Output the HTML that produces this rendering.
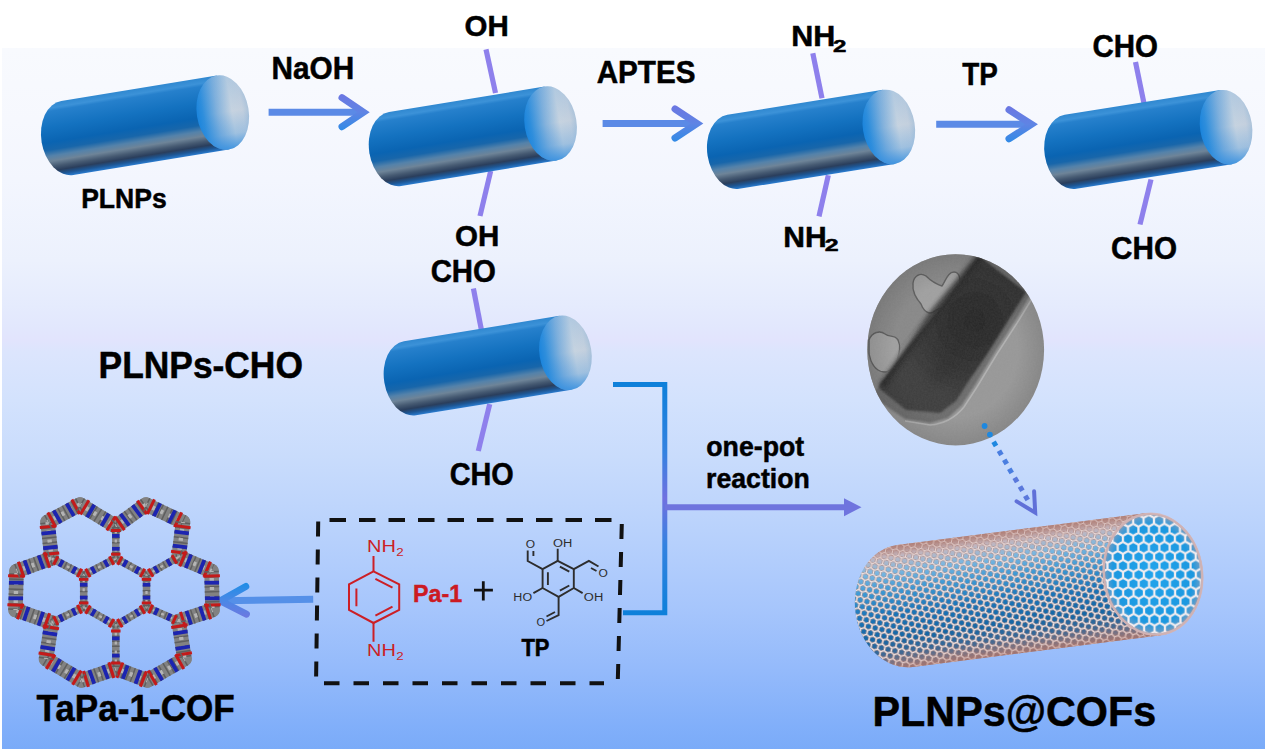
<!DOCTYPE html>
<html><head><meta charset="utf-8"><style>
html,body{margin:0;padding:0;background:#fff;overflow:hidden;}
svg{display:block;}
text{font-family:"Liberation Sans",sans-serif;}
</style></head><body>
<svg width="1268" height="752" viewBox="0 0 1268 752">
<defs>
<linearGradient id="bg" gradientUnits="userSpaceOnUse" x1="0" y1="48" x2="0" y2="749">
 <stop offset="0.0000" stop-color="#f8fafe"/>
 <stop offset="0.1027" stop-color="#f6f8fe"/>
 <stop offset="0.1883" stop-color="#f3f6fe"/>
 <stop offset="0.3024" stop-color="#ecf1fd"/>
 <stop offset="0.3680" stop-color="#e5ebfd"/>
 <stop offset="0.3994" stop-color="#e2e7fd"/>
 <stop offset="0.4165" stop-color="#e2e4fd"/>
 <stop offset="0.4337" stop-color="#dce5fd"/>
 <stop offset="0.5021" stop-color="#d3e2fd"/>
 <stop offset="0.5820" stop-color="#c9dcfc"/>
 <stop offset="0.6876" stop-color="#b9d2fc"/>
 <stop offset="0.7960" stop-color="#a7c6fc"/>
 <stop offset="0.8873" stop-color="#94bafb"/>
 <stop offset="0.9672" stop-color="#81affa"/>
 <stop offset="1.0000" stop-color="#7aabf8"/>
</linearGradient>
<linearGradient id="cylbody" x1="0" y1="0" x2="0" y2="1">
 <stop offset="0" stop-color="#3088d0"/>
 <stop offset="0.07" stop-color="#3c92d8"/>
 <stop offset="0.11" stop-color="#2680cc"/>
 <stop offset="0.32" stop-color="#1472c0"/>
 <stop offset="0.52" stop-color="#0a64b2"/>
 <stop offset="0.62" stop-color="#1866aa"/>
 <stop offset="0.70" stop-color="#5482aa"/>
 <stop offset="0.77" stop-color="#6e8498"/>
 <stop offset="0.84" stop-color="#465a72"/>
 <stop offset="0.90" stop-color="#2a3e5c"/>
 <stop offset="0.95" stop-color="#1d5694"/>
 <stop offset="1" stop-color="#2a7cd0"/>
</linearGradient>
<linearGradient id="cylcap" x1="0" y1="0" x2="1" y2="0">
 <stop offset="0" stop-color="#1a84dc"/>
 <stop offset="0.12" stop-color="#2e8edc"/>
 <stop offset="0.4" stop-color="#84b2dc"/>
 <stop offset="0.68" stop-color="#c6d3e0"/>
 <stop offset="0.88" stop-color="#c4d0de"/>
 <stop offset="1" stop-color="#aec4da"/>
</linearGradient>
<linearGradient id="cylcap2" x1="0" y1="0" x2="0" y2="1">
 <stop offset="0" stop-color="#2a8ae0" stop-opacity="0.15"/>
 <stop offset="0.5" stop-color="#2a8ae0" stop-opacity="0"/>
 <stop offset="0.8" stop-color="#2a8ae0" stop-opacity="0.25"/>
 <stop offset="1" stop-color="#2a8ae0" stop-opacity="0.8"/>
</linearGradient>

<linearGradient id="ntbody" x1="0" y1="0" x2="0" y2="1">
 <stop offset="0" stop-color="#b89088"/>
 <stop offset="0.08" stop-color="#c8c4d0"/>
 <stop offset="0.2" stop-color="#7cb8e2"/>
 <stop offset="0.36" stop-color="#3c98d4"/>
 <stop offset="0.55" stop-color="#1a74b8"/>
 <stop offset="0.75" stop-color="#1666a4"/>
 <stop offset="0.88" stop-color="#3e6894"/>
 <stop offset="1" stop-color="#a08080"/>
</linearGradient>
<linearGradient id="ntedge" x1="0" y1="0" x2="0" y2="1">
 <stop offset="0" stop-color="#a86a60" stop-opacity="0.45"/>
 <stop offset="0.1" stop-color="#a86a60" stop-opacity="0.12"/>
 <stop offset="0.22" stop-color="#a86a60" stop-opacity="0"/>
 <stop offset="0.85" stop-color="#a86a60" stop-opacity="0"/>
 <stop offset="0.95" stop-color="#a86a60" stop-opacity="0.25"/>
 <stop offset="1" stop-color="#a86a60" stop-opacity="0.5"/>
</linearGradient>
<radialGradient id="ntcap" cx="0.5" cy="0.5" r="0.5">
 <stop offset="0" stop-color="#22a4ec"/>
 <stop offset="0.8" stop-color="#1c98e0"/>
 <stop offset="0.93" stop-color="#5a9ccc"/>
 <stop offset="1" stop-color="#c09a98"/>
</radialGradient>
<pattern id="hexbody" width="6.928" height="12.000" patternUnits="userSpaceOnUse" patternTransform="rotate(20)">
 <path d="M3.46,0 L6.93,2.00 L6.93,6.00 L3.46,8.00 L0,6.00 L0,2.00 Z M3.46,8.00 L3.46,12.00" stroke="#a88078" stroke-width="2.2" fill="none"/>
 <path d="M3.46,0 L6.93,2.00 L6.93,6.00 L3.46,8.00 L0,6.00 L0,2.00 Z M3.46,8.00 L3.46,12.00" stroke="#f2ecee" stroke-width="1.3" fill="none"/>
</pattern>
<pattern id="hexcap" width="10.392" height="18.000" patternUnits="userSpaceOnUse" patternTransform="rotate(7)">
 <path d="M5.20,0 L10.39,3.00 L10.39,9.00 L5.20,12.00 L0,9.00 L0,3.00 Z M5.20,12.00 L5.20,18.00" stroke="#f4eef0" stroke-width="2.2" fill="none"/>
</pattern>
</defs>
<rect x="2" y="48" width="1263" height="701" fill="url(#bg)"/>
<line x1="486" y1="49.4" x2="495.5" y2="93" stroke="#8e80ec" stroke-width="5.2"/>
<line x1="490.7" y1="171" x2="480" y2="216" stroke="#8e80ec" stroke-width="5.2"/>
<line x1="812.8" y1="53.2" x2="822" y2="98.2" stroke="#8e80ec" stroke-width="5.2"/>
<line x1="828.3" y1="175.3" x2="819" y2="216.4" stroke="#8e80ec" stroke-width="5.2"/>
<line x1="1135.5" y1="61.9" x2="1144" y2="103.4" stroke="#8e80ec" stroke-width="5.2"/>
<line x1="1151" y1="179.5" x2="1140" y2="224.5" stroke="#8e80ec" stroke-width="5.2"/>
<line x1="473.4" y1="288.4" x2="481.7" y2="331.6" stroke="#8e80ec" stroke-width="5.2"/>
<line x1="489.7" y1="404.2" x2="478.3" y2="451" stroke="#8e80ec" stroke-width="5.2"/>
<g transform="translate(67.3,138) rotate(-9.3)"><path d="M0,-37.5 L157.5,-37.5 L157.5,37.5 L0,37.5 A26,37.5 0 0 1 0,-37.5 Z" fill="url(#cylbody)"/><ellipse cx="157.5" cy="0" rx="26" ry="37.5" fill="url(#cylcap)"/><ellipse cx="157.5" cy="0" rx="26" ry="37.5" fill="url(#cylcap2)"/></g>
<g transform="translate(395.1,149) rotate(-9.3)"><path d="M0,-37.5 L157.5,-37.5 L157.5,37.5 L0,37.5 A26,37.5 0 0 1 0,-37.5 Z" fill="url(#cylbody)"/><ellipse cx="157.5" cy="0" rx="26" ry="37.5" fill="url(#cylcap)"/><ellipse cx="157.5" cy="0" rx="26" ry="37.5" fill="url(#cylcap2)"/></g>
<g transform="translate(733.3,151.8) rotate(-9.1)"><path d="M0,-37.5 L157.5,-37.5 L157.5,37.5 L0,37.5 A26,37.5 0 0 1 0,-37.5 Z" fill="url(#cylbody)"/><ellipse cx="157.5" cy="0" rx="26" ry="37.5" fill="url(#cylcap)"/><ellipse cx="157.5" cy="0" rx="26" ry="37.5" fill="url(#cylcap2)"/></g>
<g transform="translate(1070.5,151.8) rotate(-9.0)"><path d="M0,-37.5 L157.5,-37.5 L157.5,37.5 L0,37.5 A26,37.5 0 0 1 0,-37.5 Z" fill="url(#cylbody)"/><ellipse cx="157.5" cy="0" rx="26" ry="37.5" fill="url(#cylcap)"/><ellipse cx="157.5" cy="0" rx="26" ry="37.5" fill="url(#cylcap2)"/></g>
<g transform="translate(410,378.3) rotate(-9.3)"><path d="M0,-37.5 L157.5,-37.5 L157.5,37.5 L0,37.5 A26,37.5 0 0 1 0,-37.5 Z" fill="url(#cylbody)"/><ellipse cx="157.5" cy="0" rx="26" ry="37.5" fill="url(#cylcap)"/><ellipse cx="157.5" cy="0" rx="26" ry="37.5" fill="url(#cylcap2)"/></g>
<linearGradient id="ahg1" gradientUnits="userSpaceOnUse" x1="0" y1="93.7" x2="0" y2="130.7"><stop offset="0" stop-color="#6c76e2"/><stop offset="0.5" stop-color="#5f84e4"/><stop offset="1" stop-color="#2f8ae6"/></linearGradient><line x1="268.6" y1="112.2" x2="360.5" y2="112.2" stroke="#5b8ae6" stroke-width="7"/><polyline points="342,97.7 363.5,112.2 342,126.7" fill="none" stroke="url(#ahg1)" stroke-width="7" stroke-linecap="round" stroke-linejoin="miter"/>
<linearGradient id="ahg2" gradientUnits="userSpaceOnUse" x1="0" y1="105.0" x2="0" y2="142.0"><stop offset="0" stop-color="#6c76e2"/><stop offset="0.5" stop-color="#5f84e4"/><stop offset="1" stop-color="#2f8ae6"/></linearGradient><line x1="602.6" y1="123.5" x2="694" y2="123.5" stroke="#5b8ae6" stroke-width="7"/><polyline points="675,109.0 697,123.5 675,138.0" fill="none" stroke="url(#ahg2)" stroke-width="7" stroke-linecap="round" stroke-linejoin="miter"/>
<linearGradient id="ahg3" gradientUnits="userSpaceOnUse" x1="0" y1="105.8" x2="0" y2="142.8"><stop offset="0" stop-color="#6c76e2"/><stop offset="0.5" stop-color="#5f84e4"/><stop offset="1" stop-color="#2f8ae6"/></linearGradient><line x1="936.2" y1="124.3" x2="1028.5" y2="124.3" stroke="#5b8ae6" stroke-width="7"/><polyline points="1009,109.8 1031.5,124.3 1009,138.8" fill="none" stroke="url(#ahg3)" stroke-width="7" stroke-linecap="round" stroke-linejoin="miter"/>
<text x="271.46" y="79.35" font-size="31" font-weight="bold" fill="#000" stroke="#000" stroke-width="0.5" textLength="82.70" lengthAdjust="spacingAndGlyphs">NaOH</text>
<text x="596.71" y="82.6" font-size="31" font-weight="bold" fill="#000" stroke="#000" stroke-width="0.5" textLength="98.80" lengthAdjust="spacingAndGlyphs">APTES</text>
<text x="962.24" y="85.2" font-size="31" font-weight="bold" fill="#000" stroke="#000" stroke-width="0.5" textLength="35.56" lengthAdjust="spacingAndGlyphs">TP</text>
<text x="81.18" y="207.8" font-size="28" font-weight="bold" fill="#000" stroke="#000" stroke-width="0.5" textLength="85.46" lengthAdjust="spacingAndGlyphs">PLNPs</text>
<text x="464.54" y="36" font-size="30" font-weight="bold" fill="#000" stroke="#000" stroke-width="0.5" textLength="44.19" lengthAdjust="spacingAndGlyphs">OH</text>
<text x="455.04" y="246" font-size="30" font-weight="bold" fill="#000" stroke="#000" stroke-width="0.5" textLength="44.30" lengthAdjust="spacingAndGlyphs">OH</text>
<text x="1092.44" y="56.7" font-size="30.5" font-weight="bold" fill="#000" stroke="#000" stroke-width="0.5" textLength="65.55" lengthAdjust="spacingAndGlyphs">CHO</text>
<text x="1111.03" y="259" font-size="30.5" font-weight="bold" fill="#000" stroke="#000" stroke-width="0.5" textLength="65.96" lengthAdjust="spacingAndGlyphs">CHO</text>
<text x="430.65" y="282.2" font-size="30.5" font-weight="bold" fill="#000" stroke="#000" stroke-width="0.5" textLength="65.24" lengthAdjust="spacingAndGlyphs">CHO</text>
<text x="449.67" y="484.8" font-size="30.5" font-weight="bold" fill="#000" stroke="#000" stroke-width="0.5" textLength="64.09" lengthAdjust="spacingAndGlyphs">CHO</text>
<text x="98.58" y="378.4" font-size="37" font-weight="bold" fill="#000" stroke="#000" stroke-width="0.5" textLength="204.35" lengthAdjust="spacingAndGlyphs">PLNPs-CHO</text>
<text x="706.31" y="455.6" font-size="27.5" font-weight="bold" fill="#000" stroke="#000" stroke-width="0.5" textLength="97.87" lengthAdjust="spacingAndGlyphs">one-pot</text>
<text x="706.09" y="487.5" font-size="27.5" font-weight="bold" fill="#000" stroke="#000" stroke-width="0.5" textLength="103.71" lengthAdjust="spacingAndGlyphs">reaction</text>
<text x="521.40" y="655.6" font-size="23" font-weight="bold" fill="#000" stroke="#000" stroke-width="0.5" textLength="28.10" lengthAdjust="spacingAndGlyphs">TP</text>
<text x="36.46" y="720.8" font-size="37" font-weight="bold" fill="#000" stroke="#000" stroke-width="0.5" textLength="198.36" lengthAdjust="spacingAndGlyphs">TaPa-1-COF</text>
<text x="872.49" y="726" font-size="43" font-weight="bold" fill="#000" stroke="#000" stroke-width="0.5" textLength="283.76" lengthAdjust="spacingAndGlyphs">PLNPs@COFs</text>
<text x="791.21" y="45.6" font-size="30" font-weight="bold" fill="#000" stroke="#000" stroke-width="0.5" textLength="44.10" lengthAdjust="spacingAndGlyphs">NH</text><text x="832.91" y="51.5" font-size="17" font-weight="bold" fill="#000" stroke="#000" stroke-width="0.5" textLength="13.40" lengthAdjust="spacingAndGlyphs">2</text>
<text x="783.24" y="246.9" font-size="30" font-weight="bold" fill="#000" stroke="#000" stroke-width="0.5" textLength="43.44" lengthAdjust="spacingAndGlyphs">NH</text><text x="824.89" y="251.4" font-size="17" font-weight="bold" fill="#000" stroke="#000" stroke-width="0.5" textLength="13.86" lengthAdjust="spacingAndGlyphs">2</text>
<text x="412.99" y="601.5" font-size="24.5" font-weight="bold" fill="#cc1a22" stroke="#cc1a22" stroke-width="0.5" textLength="49.21" lengthAdjust="spacingAndGlyphs">Pa-1</text>
<linearGradient id="brk" gradientUnits="userSpaceOnUse" x1="0" y1="384" x2="0" y2="613">
<stop offset="0" stop-color="#0e80da"/><stop offset="0.3" stop-color="#3482e0"/><stop offset="0.5" stop-color="#7070e0"/><stop offset="0.7" stop-color="#3482e0"/><stop offset="1" stop-color="#0e80da"/></linearGradient>
<polyline points="613,384.5 664.8,384.5 664.8,612.7 623,612.7" fill="none" stroke="url(#brk)" stroke-width="5"/>
<line x1="664.8" y1="507.2" x2="846" y2="507.2" stroke="#6f74de" stroke-width="6"/>
<polygon points="844,498.3 861.5,507.2 844,516.2" fill="#6f74de"/>
<g stroke="#111" stroke-width="4" fill="none"><line x1="329.5" y1="520.1" x2="612" y2="520.1" stroke-dasharray="16.5 13"/><line x1="324" y1="683.2" x2="604" y2="683.2" stroke-dasharray="15.5 14"/><line x1="318.2" y1="521.5" x2="316.1" y2="678" stroke-dasharray="15 13"/><line x1="621.8" y1="524" x2="617.8" y2="681" stroke-dasharray="15 13"/></g>
<line x1="313.2" y1="599.3" x2="223" y2="600.8" stroke="#5590e8" stroke-width="7"/>
<linearGradient id="lag" gradientUnits="userSpaceOnUse" x1="0" y1="583" x2="0" y2="618"><stop offset="0" stop-color="#1f8ee6"/><stop offset="0.5" stop-color="#4a88e6"/><stop offset="1" stop-color="#6e78e0"/></linearGradient>
<polyline points="245.8,586.5 220.3,600.9 246.4,614.1" fill="none" stroke="url(#lag)" stroke-width="7" stroke-linecap="round"/>
<path d="M474,590.2 H492.9 M483.3,581.2 V600.4" stroke="#111" stroke-width="2.8"/>
<polygon points="373.5,571.3 399.2,584.4 399.2,610 373.5,623 349,610 349,584.4" fill="none" stroke="#cc1f26" stroke-width="2"/>
<path d="M356.4,588.6 V606.3 M375.4,578.8 L392.5,587.7 M375.4,615.6 L392.5,606.7 M373.5,571.3 V556 M373.5,623 V641.7" stroke="#cc1f26" stroke-width="2"/>
<text x="367.06" y="552" font-size="15.7" font-weight="normal" fill="#cc1f26" textLength="28.87" lengthAdjust="spacingAndGlyphs">NH</text><text x="396.23" y="555.9" font-size="11.3" font-weight="normal" fill="#cc1f26" textLength="7.45" lengthAdjust="spacingAndGlyphs">2</text>
<text x="367.06" y="656.4" font-size="15.7" font-weight="normal" fill="#cc1f26" textLength="28.87" lengthAdjust="spacingAndGlyphs">NH</text><text x="396.23" y="660.3" font-size="11.3" font-weight="normal" fill="#cc1f26" textLength="7.45" lengthAdjust="spacingAndGlyphs">2</text>
<polygon points="557.7,560.9 573.8,569.1 573.8,588 558.6,596.9 542.6,588 542.6,569.1" fill="none" stroke="#2d2d2d" stroke-width="1.9" stroke-linejoin="round"/>
<path d="M547.9,572.2 V584.9 M559.9,566.6 L569.3,571.6 M559.9,590.6 L569.3,585.5 M557.7,560.9 V548.8 M542.6,569.1 L527.7,561 V550.5 M533.4,551 V556 M573.8,569.1 L588.9,560.9 L598.5,566.5 M591,568 L596.5,571 M573.8,588 L582.6,593.1 M542.6,588 L533.4,593.1 M558.6,596.9 V615.2 L546.5,621 M555,612 L546.5,616.5" stroke="#2d2d2d" stroke-width="1.9" fill="none"/>
<text x="552.99" y="547" font-size="10" font-weight="normal" fill="#2d2d2d" textLength="19.25" lengthAdjust="spacingAndGlyphs">OH</text>
<text x="525.83" y="547.6" font-size="10" font-weight="normal" fill="#2d2d2d" textLength="9.34" lengthAdjust="spacingAndGlyphs">O</text>
<text x="598.43" y="577.3" font-size="10" font-weight="normal" fill="#2d2d2d" textLength="9.34" lengthAdjust="spacingAndGlyphs">O</text>
<text x="583.89" y="601.3" font-size="10" font-weight="normal" fill="#2d2d2d" textLength="19.36" lengthAdjust="spacingAndGlyphs">OH</text>
<text x="513.38" y="601.3" font-size="10" font-weight="normal" fill="#2d2d2d" textLength="18.72" lengthAdjust="spacingAndGlyphs">HO</text>
<text x="536.57" y="625.9" font-size="10" font-weight="normal" fill="#2d2d2d" textLength="8.66" lengthAdjust="spacingAndGlyphs">O</text>
<g><line x1="51.6" y1="558.4" x2="47.5" y2="522" stroke="#828282" stroke-width="14.5" stroke-linecap="round"/><line x1="47.5" y1="522" x2="80" y2="504.5" stroke="#828282" stroke-width="14.5" stroke-linecap="round"/><line x1="80" y1="504.5" x2="115.8" y2="526.3" stroke="#828282" stroke-width="14.5" stroke-linecap="round"/><line x1="115.8" y1="526.3" x2="146" y2="504.5" stroke="#828282" stroke-width="14.5" stroke-linecap="round"/><line x1="146" y1="504.5" x2="183" y2="522" stroke="#828282" stroke-width="14.5" stroke-linecap="round"/><line x1="183" y1="522" x2="178.6" y2="557" stroke="#828282" stroke-width="14.5" stroke-linecap="round"/><line x1="178.6" y1="557" x2="211.5" y2="571" stroke="#828282" stroke-width="14.5" stroke-linecap="round"/><line x1="211.5" y1="571" x2="212.5" y2="610" stroke="#828282" stroke-width="14.5" stroke-linecap="round"/><line x1="212.5" y1="610" x2="178.6" y2="621.2" stroke="#828282" stroke-width="14.5" stroke-linecap="round"/><line x1="178.6" y1="621.2" x2="184.5" y2="659" stroke="#828282" stroke-width="14.5" stroke-linecap="round"/><line x1="184.5" y1="659" x2="147.5" y2="680.5" stroke="#828282" stroke-width="14.5" stroke-linecap="round"/><line x1="147.5" y1="680.5" x2="115.8" y2="668.6" stroke="#828282" stroke-width="14.5" stroke-linecap="round"/><line x1="115.8" y1="668.6" x2="81.5" y2="680.5" stroke="#828282" stroke-width="14.5" stroke-linecap="round"/><line x1="81.5" y1="680.5" x2="46" y2="659" stroke="#828282" stroke-width="14.5" stroke-linecap="round"/><line x1="46" y1="659" x2="51.6" y2="622.6" stroke="#828282" stroke-width="14.5" stroke-linecap="round"/><line x1="51.6" y1="622.6" x2="15.5" y2="610" stroke="#828282" stroke-width="14.5" stroke-linecap="round"/><line x1="15.5" y1="610" x2="16.5" y2="571" stroke="#828282" stroke-width="14.5" stroke-linecap="round"/><line x1="16.5" y1="571" x2="51.6" y2="558.4" stroke="#828282" stroke-width="14.5" stroke-linecap="round"/><line x1="115.8" y1="558.4" x2="146.5" y2="575.1" stroke="#828282" stroke-width="7.5" stroke-linecap="round"/><line x1="146.5" y1="575.1" x2="146.5" y2="607.2" stroke="#828282" stroke-width="7.5" stroke-linecap="round"/><line x1="146.5" y1="607.2" x2="115.8" y2="625.4" stroke="#828282" stroke-width="7.5" stroke-linecap="round"/><line x1="115.8" y1="625.4" x2="83.7" y2="607.2" stroke="#828282" stroke-width="7.5" stroke-linecap="round"/><line x1="83.7" y1="607.2" x2="83.7" y2="575.1" stroke="#828282" stroke-width="7.5" stroke-linecap="round"/><line x1="83.7" y1="575.1" x2="115.8" y2="558.4" stroke="#828282" stroke-width="7.5" stroke-linecap="round"/><line x1="115.8" y1="558.4" x2="115.8" y2="526.3" stroke="#828282" stroke-width="7.5" stroke-linecap="round"/><line x1="146.5" y1="575.1" x2="178.6" y2="557" stroke="#828282" stroke-width="7.5" stroke-linecap="round"/><line x1="146.5" y1="607.2" x2="178.6" y2="621.2" stroke="#828282" stroke-width="7.5" stroke-linecap="round"/><line x1="115.8" y1="625.4" x2="115.8" y2="668.6" stroke="#828282" stroke-width="7.5" stroke-linecap="round"/><line x1="83.7" y1="607.2" x2="51.6" y2="622.6" stroke="#828282" stroke-width="7.5" stroke-linecap="round"/><line x1="83.7" y1="575.1" x2="51.6" y2="558.4" stroke="#828282" stroke-width="7.5" stroke-linecap="round"/><line x1="51.6" y1="558.4" x2="47.5" y2="522" stroke="#5f5f5f" stroke-width="14.5" stroke-dasharray="1.5 3.5"/><line x1="51.6" y1="558.4" x2="47.5" y2="522" stroke="#b4b4b4" stroke-width="4.35" stroke-dasharray="3 6" stroke-dashoffset="2"/><line x1="51.2" y1="555.2" x2="50.9" y2="552.2" stroke="#c41a1a" stroke-width="16.5" stroke-linecap="butt"/><line x1="48.2" y1="528.2" x2="47.9" y2="525.2" stroke="#c41a1a" stroke-width="16.5" stroke-linecap="butt"/><line x1="50.6" y1="549.4" x2="50.2" y2="545.6" stroke="#1c24b0" stroke-width="14.5" stroke-linecap="butt"/><line x1="48.9" y1="534.8" x2="48.5" y2="531.0" stroke="#1c24b0" stroke-width="14.5" stroke-linecap="butt"/><line x1="47.5" y1="522" x2="80" y2="504.5" stroke="#5f5f5f" stroke-width="14.5" stroke-dasharray="1.5 3.5"/><line x1="47.5" y1="522" x2="80" y2="504.5" stroke="#b4b4b4" stroke-width="4.35" stroke-dasharray="3 6" stroke-dashoffset="2"/><line x1="50.4" y1="520.4" x2="53.0" y2="519.0" stroke="#c41a1a" stroke-width="16.5" stroke-linecap="butt"/><line x1="74.5" y1="507.5" x2="77.1" y2="506.1" stroke="#c41a1a" stroke-width="16.5" stroke-linecap="butt"/><line x1="55.6" y1="517.7" x2="58.9" y2="515.8" stroke="#1c24b0" stroke-width="14.5" stroke-linecap="butt"/><line x1="68.6" y1="510.7" x2="71.9" y2="508.8" stroke="#1c24b0" stroke-width="14.5" stroke-linecap="butt"/><line x1="80" y1="504.5" x2="115.8" y2="526.3" stroke="#5f5f5f" stroke-width="14.5" stroke-dasharray="1.5 3.5"/><line x1="80" y1="504.5" x2="115.8" y2="526.3" stroke="#b4b4b4" stroke-width="4.35" stroke-dasharray="3 6" stroke-dashoffset="2"/><line x1="83.4" y1="506.6" x2="85.9" y2="508.1" stroke="#c41a1a" stroke-width="16.5" stroke-linecap="butt"/><line x1="109.9" y1="522.7" x2="112.4" y2="524.2" stroke="#c41a1a" stroke-width="16.5" stroke-linecap="butt"/><line x1="89.1" y1="510.1" x2="92.4" y2="512.0" stroke="#1c24b0" stroke-width="14.5" stroke-linecap="butt"/><line x1="103.4" y1="518.8" x2="106.7" y2="520.7" stroke="#1c24b0" stroke-width="14.5" stroke-linecap="butt"/><line x1="115.8" y1="526.3" x2="146" y2="504.5" stroke="#5f5f5f" stroke-width="14.5" stroke-dasharray="1.5 3.5"/><line x1="115.8" y1="526.3" x2="146" y2="504.5" stroke="#b4b4b4" stroke-width="4.35" stroke-dasharray="3 6" stroke-dashoffset="2"/><line x1="118.5" y1="524.3" x2="120.9" y2="522.6" stroke="#c41a1a" stroke-width="16.5" stroke-linecap="butt"/><line x1="140.9" y1="508.2" x2="143.3" y2="506.5" stroke="#c41a1a" stroke-width="16.5" stroke-linecap="butt"/><line x1="123.3" y1="520.9" x2="126.4" y2="518.6" stroke="#1c24b0" stroke-width="14.5" stroke-linecap="butt"/><line x1="135.4" y1="512.2" x2="138.5" y2="509.9" stroke="#1c24b0" stroke-width="14.5" stroke-linecap="butt"/><line x1="146" y1="504.5" x2="183" y2="522" stroke="#5f5f5f" stroke-width="14.5" stroke-dasharray="1.5 3.5"/><line x1="146" y1="504.5" x2="183" y2="522" stroke="#b4b4b4" stroke-width="4.35" stroke-dasharray="3 6" stroke-dashoffset="2"/><line x1="149.5" y1="506.1" x2="152.2" y2="507.4" stroke="#c41a1a" stroke-width="16.5" stroke-linecap="butt"/><line x1="176.8" y1="519.1" x2="179.5" y2="520.4" stroke="#c41a1a" stroke-width="16.5" stroke-linecap="butt"/><line x1="155.4" y1="508.9" x2="158.8" y2="510.6" stroke="#1c24b0" stroke-width="14.5" stroke-linecap="butt"/><line x1="170.2" y1="515.9" x2="173.6" y2="517.6" stroke="#1c24b0" stroke-width="14.5" stroke-linecap="butt"/><line x1="183" y1="522" x2="178.6" y2="557" stroke="#5f5f5f" stroke-width="14.5" stroke-dasharray="1.5 3.5"/><line x1="183" y1="522" x2="178.6" y2="557" stroke="#b4b4b4" stroke-width="4.35" stroke-dasharray="3 6" stroke-dashoffset="2"/><line x1="182.6" y1="525.1" x2="182.2" y2="528.0" stroke="#c41a1a" stroke-width="16.5" stroke-linecap="butt"/><line x1="179.4" y1="551.0" x2="179.0" y2="553.9" stroke="#c41a1a" stroke-width="16.5" stroke-linecap="butt"/><line x1="181.9" y1="530.6" x2="181.4" y2="534.4" stroke="#1c24b0" stroke-width="14.5" stroke-linecap="butt"/><line x1="180.2" y1="544.6" x2="179.7" y2="548.4" stroke="#1c24b0" stroke-width="14.5" stroke-linecap="butt"/><line x1="178.6" y1="557" x2="211.5" y2="571" stroke="#5f5f5f" stroke-width="14.5" stroke-dasharray="1.5 3.5"/><line x1="178.6" y1="557" x2="211.5" y2="571" stroke="#b4b4b4" stroke-width="4.35" stroke-dasharray="3 6" stroke-dashoffset="2"/><line x1="181.5" y1="558.2" x2="184.3" y2="559.4" stroke="#c41a1a" stroke-width="16.5" stroke-linecap="butt"/><line x1="205.8" y1="568.6" x2="208.6" y2="569.8" stroke="#c41a1a" stroke-width="16.5" stroke-linecap="butt"/><line x1="186.7" y1="560.5" x2="190.2" y2="561.9" stroke="#1c24b0" stroke-width="14.5" stroke-linecap="butt"/><line x1="199.9" y1="566.1" x2="203.4" y2="567.5" stroke="#1c24b0" stroke-width="14.5" stroke-linecap="butt"/><line x1="211.5" y1="571" x2="212.5" y2="610" stroke="#5f5f5f" stroke-width="14.5" stroke-dasharray="1.5 3.5"/><line x1="211.5" y1="571" x2="212.5" y2="610" stroke="#b4b4b4" stroke-width="4.35" stroke-dasharray="3 6" stroke-dashoffset="2"/><line x1="211.6" y1="574.6" x2="211.7" y2="577.6" stroke="#c41a1a" stroke-width="16.5" stroke-linecap="butt"/><line x1="212.3" y1="603.4" x2="212.4" y2="606.4" stroke="#c41a1a" stroke-width="16.5" stroke-linecap="butt"/><line x1="211.8" y1="580.8" x2="211.8" y2="584.6" stroke="#1c24b0" stroke-width="14.5" stroke-linecap="butt"/><line x1="212.2" y1="596.4" x2="212.2" y2="600.2" stroke="#1c24b0" stroke-width="14.5" stroke-linecap="butt"/><line x1="212.5" y1="610" x2="178.6" y2="621.2" stroke="#5f5f5f" stroke-width="14.5" stroke-dasharray="1.5 3.5"/><line x1="212.5" y1="610" x2="178.6" y2="621.2" stroke="#b4b4b4" stroke-width="4.35" stroke-dasharray="3 6" stroke-dashoffset="2"/><line x1="209.5" y1="611.0" x2="206.7" y2="611.9" stroke="#c41a1a" stroke-width="16.5" stroke-linecap="butt"/><line x1="184.4" y1="619.3" x2="181.6" y2="620.2" stroke="#c41a1a" stroke-width="16.5" stroke-linecap="butt"/><line x1="204.1" y1="612.8" x2="200.5" y2="614.0" stroke="#1c24b0" stroke-width="14.5" stroke-linecap="butt"/><line x1="190.6" y1="617.2" x2="187.0" y2="618.4" stroke="#1c24b0" stroke-width="14.5" stroke-linecap="butt"/><line x1="178.6" y1="621.2" x2="184.5" y2="659" stroke="#5f5f5f" stroke-width="14.5" stroke-dasharray="1.5 3.5"/><line x1="178.6" y1="621.2" x2="184.5" y2="659" stroke="#b4b4b4" stroke-width="4.35" stroke-dasharray="3 6" stroke-dashoffset="2"/><line x1="179.1" y1="624.6" x2="179.6" y2="627.6" stroke="#c41a1a" stroke-width="16.5" stroke-linecap="butt"/><line x1="183.5" y1="652.6" x2="184.0" y2="655.6" stroke="#c41a1a" stroke-width="16.5" stroke-linecap="butt"/><line x1="180.1" y1="630.7" x2="180.7" y2="634.4" stroke="#1c24b0" stroke-width="14.5" stroke-linecap="butt"/><line x1="182.4" y1="645.8" x2="183.0" y2="649.5" stroke="#1c24b0" stroke-width="14.5" stroke-linecap="butt"/><line x1="184.5" y1="659" x2="147.5" y2="680.5" stroke="#5f5f5f" stroke-width="14.5" stroke-dasharray="1.5 3.5"/><line x1="184.5" y1="659" x2="147.5" y2="680.5" stroke="#b4b4b4" stroke-width="4.35" stroke-dasharray="3 6" stroke-dashoffset="2"/><line x1="181.0" y1="661.0" x2="178.4" y2="662.5" stroke="#c41a1a" stroke-width="16.5" stroke-linecap="butt"/><line x1="153.6" y1="677.0" x2="151.0" y2="678.5" stroke="#c41a1a" stroke-width="16.5" stroke-linecap="butt"/><line x1="175.0" y1="664.5" x2="171.8" y2="666.4" stroke="#1c24b0" stroke-width="14.5" stroke-linecap="butt"/><line x1="160.2" y1="673.1" x2="157.0" y2="675.0" stroke="#1c24b0" stroke-width="14.5" stroke-linecap="butt"/><line x1="147.5" y1="680.5" x2="115.8" y2="668.6" stroke="#5f5f5f" stroke-width="14.5" stroke-dasharray="1.5 3.5"/><line x1="147.5" y1="680.5" x2="115.8" y2="668.6" stroke="#b4b4b4" stroke-width="4.35" stroke-dasharray="3 6" stroke-dashoffset="2"/><line x1="144.8" y1="679.5" x2="142.0" y2="678.4" stroke="#c41a1a" stroke-width="16.5" stroke-linecap="butt"/><line x1="121.3" y1="670.7" x2="118.5" y2="669.6" stroke="#c41a1a" stroke-width="16.5" stroke-linecap="butt"/><line x1="139.8" y1="677.6" x2="136.2" y2="676.3" stroke="#1c24b0" stroke-width="14.5" stroke-linecap="butt"/><line x1="127.1" y1="672.8" x2="123.5" y2="671.5" stroke="#1c24b0" stroke-width="14.5" stroke-linecap="butt"/><line x1="115.8" y1="668.6" x2="81.5" y2="680.5" stroke="#5f5f5f" stroke-width="14.5" stroke-dasharray="1.5 3.5"/><line x1="115.8" y1="668.6" x2="81.5" y2="680.5" stroke="#b4b4b4" stroke-width="4.35" stroke-dasharray="3 6" stroke-dashoffset="2"/><line x1="112.8" y1="669.7" x2="109.9" y2="670.6" stroke="#c41a1a" stroke-width="16.5" stroke-linecap="butt"/><line x1="87.4" y1="678.5" x2="84.5" y2="679.4" stroke="#c41a1a" stroke-width="16.5" stroke-linecap="butt"/><line x1="107.3" y1="671.5" x2="103.7" y2="672.8" stroke="#1c24b0" stroke-width="14.5" stroke-linecap="butt"/><line x1="93.6" y1="676.3" x2="90.0" y2="677.6" stroke="#1c24b0" stroke-width="14.5" stroke-linecap="butt"/><line x1="81.5" y1="680.5" x2="46" y2="659" stroke="#5f5f5f" stroke-width="14.5" stroke-dasharray="1.5 3.5"/><line x1="81.5" y1="680.5" x2="46" y2="659" stroke="#b4b4b4" stroke-width="4.35" stroke-dasharray="3 6" stroke-dashoffset="2"/><line x1="78.2" y1="678.5" x2="75.6" y2="676.9" stroke="#c41a1a" stroke-width="16.5" stroke-linecap="butt"/><line x1="51.9" y1="662.6" x2="49.3" y2="661.0" stroke="#c41a1a" stroke-width="16.5" stroke-linecap="butt"/><line x1="72.5" y1="675.0" x2="69.2" y2="673.1" stroke="#1c24b0" stroke-width="14.5" stroke-linecap="butt"/><line x1="58.3" y1="666.4" x2="55.0" y2="664.5" stroke="#1c24b0" stroke-width="14.5" stroke-linecap="butt"/><line x1="46" y1="659" x2="51.6" y2="622.6" stroke="#5f5f5f" stroke-width="14.5" stroke-dasharray="1.5 3.5"/><line x1="46" y1="659" x2="51.6" y2="622.6" stroke="#b4b4b4" stroke-width="4.35" stroke-dasharray="3 6" stroke-dashoffset="2"/><line x1="46.5" y1="655.8" x2="47.0" y2="652.8" stroke="#c41a1a" stroke-width="16.5" stroke-linecap="butt"/><line x1="50.6" y1="628.8" x2="51.1" y2="625.8" stroke="#c41a1a" stroke-width="16.5" stroke-linecap="butt"/><line x1="47.4" y1="650.0" x2="48.0" y2="646.2" stroke="#1c24b0" stroke-width="14.5" stroke-linecap="butt"/><line x1="49.6" y1="635.4" x2="50.2" y2="631.6" stroke="#1c24b0" stroke-width="14.5" stroke-linecap="butt"/><line x1="51.6" y1="622.6" x2="15.5" y2="610" stroke="#5f5f5f" stroke-width="14.5" stroke-dasharray="1.5 3.5"/><line x1="51.6" y1="622.6" x2="15.5" y2="610" stroke="#b4b4b4" stroke-width="4.35" stroke-dasharray="3 6" stroke-dashoffset="2"/><line x1="48.3" y1="621.5" x2="45.5" y2="620.5" stroke="#c41a1a" stroke-width="16.5" stroke-linecap="butt"/><line x1="21.6" y1="612.1" x2="18.8" y2="611.1" stroke="#c41a1a" stroke-width="16.5" stroke-linecap="butt"/><line x1="42.6" y1="619.4" x2="39.0" y2="618.2" stroke="#1c24b0" stroke-width="14.5" stroke-linecap="butt"/><line x1="28.1" y1="614.4" x2="24.5" y2="613.2" stroke="#1c24b0" stroke-width="14.5" stroke-linecap="butt"/><line x1="15.5" y1="610" x2="16.5" y2="571" stroke="#5f5f5f" stroke-width="14.5" stroke-dasharray="1.5 3.5"/><line x1="15.5" y1="610" x2="16.5" y2="571" stroke="#b4b4b4" stroke-width="4.35" stroke-dasharray="3 6" stroke-dashoffset="2"/><line x1="15.6" y1="606.4" x2="15.7" y2="603.4" stroke="#c41a1a" stroke-width="16.5" stroke-linecap="butt"/><line x1="16.3" y1="577.6" x2="16.4" y2="574.6" stroke="#c41a1a" stroke-width="16.5" stroke-linecap="butt"/><line x1="15.8" y1="600.2" x2="15.8" y2="596.4" stroke="#1c24b0" stroke-width="14.5" stroke-linecap="butt"/><line x1="16.2" y1="584.6" x2="16.2" y2="580.8" stroke="#1c24b0" stroke-width="14.5" stroke-linecap="butt"/><line x1="16.5" y1="571" x2="51.6" y2="558.4" stroke="#5f5f5f" stroke-width="14.5" stroke-dasharray="1.5 3.5"/><line x1="16.5" y1="571" x2="51.6" y2="558.4" stroke="#b4b4b4" stroke-width="4.35" stroke-dasharray="3 6" stroke-dashoffset="2"/><line x1="19.7" y1="569.9" x2="22.5" y2="568.9" stroke="#c41a1a" stroke-width="16.5" stroke-linecap="butt"/><line x1="45.6" y1="560.5" x2="48.4" y2="559.5" stroke="#c41a1a" stroke-width="16.5" stroke-linecap="butt"/><line x1="25.2" y1="567.9" x2="28.8" y2="566.6" stroke="#1c24b0" stroke-width="14.5" stroke-linecap="butt"/><line x1="39.3" y1="562.8" x2="42.9" y2="561.5" stroke="#1c24b0" stroke-width="14.5" stroke-linecap="butt"/><line x1="115.8" y1="558.4" x2="146.5" y2="575.1" stroke="#5f5f5f" stroke-width="7.5" stroke-dasharray="1.5 3.5"/><line x1="115.8" y1="558.4" x2="146.5" y2="575.1" stroke="#b4b4b4" stroke-width="2.25" stroke-dasharray="3 6" stroke-dashoffset="2"/><line x1="118.5" y1="559.9" x2="121.1" y2="561.3" stroke="#c41a1a" stroke-width="9.5" stroke-linecap="butt"/><line x1="141.2" y1="572.2" x2="143.8" y2="573.6" stroke="#c41a1a" stroke-width="9.5" stroke-linecap="butt"/><line x1="123.3" y1="562.5" x2="126.7" y2="564.3" stroke="#1c24b0" stroke-width="7.5" stroke-linecap="butt"/><line x1="135.6" y1="569.2" x2="139.0" y2="571.0" stroke="#1c24b0" stroke-width="7.5" stroke-linecap="butt"/><line x1="146.5" y1="575.1" x2="146.5" y2="607.2" stroke="#5f5f5f" stroke-width="7.5" stroke-dasharray="1.5 3.5"/><line x1="146.5" y1="575.1" x2="146.5" y2="607.2" stroke="#b4b4b4" stroke-width="2.25" stroke-dasharray="3 6" stroke-dashoffset="2"/><line x1="146.5" y1="577.8" x2="146.5" y2="580.8" stroke="#c41a1a" stroke-width="9.5" stroke-linecap="butt"/><line x1="146.5" y1="601.5" x2="146.5" y2="604.5" stroke="#c41a1a" stroke-width="9.5" stroke-linecap="butt"/><line x1="146.5" y1="582.8" x2="146.5" y2="586.6" stroke="#1c24b0" stroke-width="7.5" stroke-linecap="butt"/><line x1="146.5" y1="595.7" x2="146.5" y2="599.5" stroke="#1c24b0" stroke-width="7.5" stroke-linecap="butt"/><line x1="146.5" y1="607.2" x2="115.8" y2="625.4" stroke="#5f5f5f" stroke-width="7.5" stroke-dasharray="1.5 3.5"/><line x1="146.5" y1="607.2" x2="115.8" y2="625.4" stroke="#b4b4b4" stroke-width="2.25" stroke-dasharray="3 6" stroke-dashoffset="2"/><line x1="143.8" y1="608.8" x2="141.2" y2="610.3" stroke="#c41a1a" stroke-width="9.5" stroke-linecap="butt"/><line x1="121.1" y1="622.3" x2="118.5" y2="623.8" stroke="#c41a1a" stroke-width="9.5" stroke-linecap="butt"/><line x1="138.9" y1="611.7" x2="135.7" y2="613.6" stroke="#1c24b0" stroke-width="7.5" stroke-linecap="butt"/><line x1="126.6" y1="619.0" x2="123.4" y2="620.9" stroke="#1c24b0" stroke-width="7.5" stroke-linecap="butt"/><line x1="115.8" y1="625.4" x2="83.7" y2="607.2" stroke="#5f5f5f" stroke-width="7.5" stroke-dasharray="1.5 3.5"/><line x1="115.8" y1="625.4" x2="83.7" y2="607.2" stroke="#b4b4b4" stroke-width="2.25" stroke-dasharray="3 6" stroke-dashoffset="2"/><line x1="112.9" y1="623.8" x2="110.3" y2="622.3" stroke="#c41a1a" stroke-width="9.5" stroke-linecap="butt"/><line x1="89.2" y1="610.3" x2="86.6" y2="608.8" stroke="#c41a1a" stroke-width="9.5" stroke-linecap="butt"/><line x1="107.8" y1="620.9" x2="104.5" y2="619.0" stroke="#1c24b0" stroke-width="7.5" stroke-linecap="butt"/><line x1="95.0" y1="613.6" x2="91.7" y2="611.7" stroke="#1c24b0" stroke-width="7.5" stroke-linecap="butt"/><line x1="83.7" y1="607.2" x2="83.7" y2="575.1" stroke="#5f5f5f" stroke-width="7.5" stroke-dasharray="1.5 3.5"/><line x1="83.7" y1="607.2" x2="83.7" y2="575.1" stroke="#b4b4b4" stroke-width="2.25" stroke-dasharray="3 6" stroke-dashoffset="2"/><line x1="83.7" y1="604.5" x2="83.7" y2="601.5" stroke="#c41a1a" stroke-width="9.5" stroke-linecap="butt"/><line x1="83.7" y1="580.8" x2="83.7" y2="577.8" stroke="#c41a1a" stroke-width="9.5" stroke-linecap="butt"/><line x1="83.7" y1="599.5" x2="83.7" y2="595.7" stroke="#1c24b0" stroke-width="7.5" stroke-linecap="butt"/><line x1="83.7" y1="586.6" x2="83.7" y2="582.8" stroke="#1c24b0" stroke-width="7.5" stroke-linecap="butt"/><line x1="83.7" y1="575.1" x2="115.8" y2="558.4" stroke="#5f5f5f" stroke-width="7.5" stroke-dasharray="1.5 3.5"/><line x1="83.7" y1="575.1" x2="115.8" y2="558.4" stroke="#b4b4b4" stroke-width="2.25" stroke-dasharray="3 6" stroke-dashoffset="2"/><line x1="86.5" y1="573.6" x2="89.2" y2="572.2" stroke="#c41a1a" stroke-width="9.5" stroke-linecap="butt"/><line x1="110.3" y1="561.3" x2="113.0" y2="559.9" stroke="#c41a1a" stroke-width="9.5" stroke-linecap="butt"/><line x1="91.6" y1="571.0" x2="95.0" y2="569.2" stroke="#1c24b0" stroke-width="7.5" stroke-linecap="butt"/><line x1="104.5" y1="564.3" x2="107.9" y2="562.5" stroke="#1c24b0" stroke-width="7.5" stroke-linecap="butt"/><line x1="115.8" y1="558.4" x2="115.8" y2="526.3" stroke="#5f5f5f" stroke-width="7.5" stroke-dasharray="1.5 3.5"/><line x1="115.8" y1="558.4" x2="115.8" y2="526.3" stroke="#b4b4b4" stroke-width="2.25" stroke-dasharray="3 6" stroke-dashoffset="2"/><line x1="115.8" y1="555.7" x2="115.8" y2="552.7" stroke="#c41a1a" stroke-width="9.5" stroke-linecap="butt"/><line x1="115.8" y1="532.0" x2="115.8" y2="529.0" stroke="#c41a1a" stroke-width="9.5" stroke-linecap="butt"/><line x1="115.8" y1="550.7" x2="115.8" y2="546.9" stroke="#1c24b0" stroke-width="7.5" stroke-linecap="butt"/><line x1="115.8" y1="537.8" x2="115.8" y2="534.0" stroke="#1c24b0" stroke-width="7.5" stroke-linecap="butt"/><line x1="146.5" y1="575.1" x2="178.6" y2="557" stroke="#5f5f5f" stroke-width="7.5" stroke-dasharray="1.5 3.5"/><line x1="146.5" y1="575.1" x2="178.6" y2="557" stroke="#b4b4b4" stroke-width="2.25" stroke-dasharray="3 6" stroke-dashoffset="2"/><line x1="149.4" y1="573.5" x2="152.0" y2="572.0" stroke="#c41a1a" stroke-width="9.5" stroke-linecap="butt"/><line x1="173.1" y1="560.1" x2="175.7" y2="558.6" stroke="#c41a1a" stroke-width="9.5" stroke-linecap="butt"/><line x1="154.5" y1="570.6" x2="157.8" y2="568.7" stroke="#1c24b0" stroke-width="7.5" stroke-linecap="butt"/><line x1="167.3" y1="563.4" x2="170.6" y2="561.5" stroke="#1c24b0" stroke-width="7.5" stroke-linecap="butt"/><line x1="146.5" y1="607.2" x2="178.6" y2="621.2" stroke="#5f5f5f" stroke-width="7.5" stroke-dasharray="1.5 3.5"/><line x1="146.5" y1="607.2" x2="178.6" y2="621.2" stroke="#b4b4b4" stroke-width="2.25" stroke-dasharray="3 6" stroke-dashoffset="2"/><line x1="149.3" y1="608.4" x2="152.0" y2="609.6" stroke="#c41a1a" stroke-width="9.5" stroke-linecap="butt"/><line x1="173.1" y1="618.8" x2="175.8" y2="620.0" stroke="#c41a1a" stroke-width="9.5" stroke-linecap="butt"/><line x1="154.4" y1="610.6" x2="157.9" y2="612.2" stroke="#1c24b0" stroke-width="7.5" stroke-linecap="butt"/><line x1="167.2" y1="616.2" x2="170.7" y2="617.8" stroke="#1c24b0" stroke-width="7.5" stroke-linecap="butt"/><line x1="115.8" y1="625.4" x2="115.8" y2="668.6" stroke="#5f5f5f" stroke-width="7.5" stroke-dasharray="1.5 3.5"/><line x1="115.8" y1="625.4" x2="115.8" y2="668.6" stroke="#b4b4b4" stroke-width="2.25" stroke-dasharray="3 6" stroke-dashoffset="2"/><line x1="115.8" y1="629.5" x2="115.8" y2="632.5" stroke="#c41a1a" stroke-width="9.5" stroke-linecap="butt"/><line x1="115.8" y1="661.5" x2="115.8" y2="664.5" stroke="#c41a1a" stroke-width="9.5" stroke-linecap="butt"/><line x1="115.8" y1="636.5" x2="115.8" y2="640.3" stroke="#1c24b0" stroke-width="7.5" stroke-linecap="butt"/><line x1="115.8" y1="653.7" x2="115.8" y2="657.5" stroke="#1c24b0" stroke-width="7.5" stroke-linecap="butt"/><line x1="83.7" y1="607.2" x2="51.6" y2="622.6" stroke="#5f5f5f" stroke-width="7.5" stroke-dasharray="1.5 3.5"/><line x1="83.7" y1="607.2" x2="51.6" y2="622.6" stroke="#b4b4b4" stroke-width="2.25" stroke-dasharray="3 6" stroke-dashoffset="2"/><line x1="80.9" y1="608.6" x2="78.2" y2="609.9" stroke="#c41a1a" stroke-width="9.5" stroke-linecap="butt"/><line x1="57.1" y1="619.9" x2="54.4" y2="621.2" stroke="#c41a1a" stroke-width="9.5" stroke-linecap="butt"/><line x1="75.8" y1="611.0" x2="72.4" y2="612.6" stroke="#1c24b0" stroke-width="7.5" stroke-linecap="butt"/><line x1="62.9" y1="617.2" x2="59.5" y2="618.8" stroke="#1c24b0" stroke-width="7.5" stroke-linecap="butt"/><line x1="83.7" y1="575.1" x2="51.6" y2="558.4" stroke="#5f5f5f" stroke-width="7.5" stroke-dasharray="1.5 3.5"/><line x1="83.7" y1="575.1" x2="51.6" y2="558.4" stroke="#b4b4b4" stroke-width="2.25" stroke-dasharray="3 6" stroke-dashoffset="2"/><line x1="80.9" y1="573.6" x2="78.2" y2="572.2" stroke="#c41a1a" stroke-width="9.5" stroke-linecap="butt"/><line x1="57.1" y1="561.3" x2="54.4" y2="559.9" stroke="#c41a1a" stroke-width="9.5" stroke-linecap="butt"/><line x1="75.8" y1="571.0" x2="72.4" y2="569.2" stroke="#1c24b0" stroke-width="7.5" stroke-linecap="butt"/><line x1="62.9" y1="564.3" x2="59.5" y2="562.5" stroke="#1c24b0" stroke-width="7.5" stroke-linecap="butt"/></g>
<defs><clipPath id="temclip"><ellipse cx="955.7" cy="349.8" rx="88.4" ry="95.6"/></clipPath>
<filter id="blur2" x="-20%" y="-20%" width="140%" height="140%"><feGaussianBlur stdDeviation="2"/></filter>
<filter id="grain" x="0" y="0" width="100%" height="100%"><feTurbulence type="fractalNoise" baseFrequency="0.55" numOctaves="2" seed="3"/><feColorMatrix type="matrix" values="0 0 0 0 0.5  0 0 0 0 0.5  0 0 0 0 0.5  1 0 0 0 0"/></filter>
<filter id="blur1" x="-20%" y="-20%" width="140%" height="140%"><feGaussianBlur stdDeviation="1"/></filter>
<filter id="blur4" x="-20%" y="-20%" width="140%" height="140%"><feGaussianBlur stdDeviation="4"/></filter>
<radialGradient id="temcore" gradientUnits="userSpaceOnUse" cx="975" cy="320" r="85">
<stop offset="0" stop-color="#262626"/><stop offset="0.5" stop-color="#303030"/><stop offset="1" stop-color="#3e3e3e"/></radialGradient>
<radialGradient id="temvig" cx="0.5" cy="0.5" r="0.5">
<stop offset="0.7" stop-color="#000" stop-opacity="0"/><stop offset="1" stop-color="#000" stop-opacity="0.12"/></radialGradient>
</defs>
<g clip-path="url(#temclip)">
<rect x="860" y="250" width="190" height="200" fill="#989898"/>
<polygon points="860,250 985,250 880,392 860,400" fill="#888888"/>
<path d="M913,283 C914,276 920,272 926,276 C930,280 936,284 942,286 C946,280 948,272 954,272 C960,272 962,282 958,290 C954,298 950,302 952,308 C946,312 940,306 936,310 C930,316 924,312 921,304 C916,298 912,292 913,283 Z" fill="#a0a0a0" stroke="#5e5e5e" stroke-width="1.4"/>
<path d="M869,340 C872,332 880,330 885,334 C890,338 894,334 898,340 C902,348 898,356 896,364 C892,372 884,374 878,370 C872,366 868,356 869,348 Z" fill="#a0a0a0" stroke="#5e5e5e" stroke-width="1.4"/>
<path d="M936,318 C926,330 914,340 906,352 C900,362 894,372 888,384 L882,380 C890,366 898,352 908,340 C916,330 926,320 934,312 Z" fill="#a4a4a4" opacity="0.8" filter="url(#blur1)"/>
<polygon points="986,250 1034,288 1017,318 995,352 975,385 962,405 948,418 930,423 905,419 880,402 872,395" fill="#6c6c6c" filter="url(#blur1)"/>
<polygon points="979,256 1026,292 1008,321 986,356 968,382 956,401 940,413 906,410 881,390 879,386" fill="url(#temcore)" filter="url(#blur1)"/>
<path d="M980,256 L934,312 L882,386" fill="none" stroke="#262626" stroke-width="7" opacity="0.8" filter="url(#blur2)"/>
<polygon points="955,310 990,300 960,370 930,385" fill="#2a2a2a" opacity="0.4" filter="url(#blur4)"/>
<path d="M1036,292 L1019,320 L997,354 L977,387 L964,407 C955,418 945,424 930,425 L905,421" fill="none" stroke="#b8b8b8" stroke-width="1.5" opacity="0.8"/>
<ellipse cx="955.7" cy="349.8" rx="88.4" ry="95.6" fill="url(#temvig)"/>
<rect x="860" y="250" width="190" height="200" filter="url(#grain)" opacity="0.1"/>
</g>
<circle cx="984.6" cy="426" r="2.9" fill="#1e88e0"/>
<circle cx="989.9" cy="434.6" r="2.9" fill="#1e88e0"/>
<rect x="992.3" y="441.4" width="5" height="5" fill="#1e88e0" transform="rotate(-30 994.8 443.9)"/>
<rect x="997.7" y="450.3" width="5" height="5" fill="#4a7ee0" transform="rotate(-30 1000.2 452.8)"/>
<rect x="1003.0" y="459.4" width="5" height="5" fill="#4a7ee0" transform="rotate(-30 1005.5 461.9)"/>
<rect x="1008.0" y="468.4" width="5" height="5" fill="#4a7ee0" transform="rotate(-30 1010.5 470.9)"/>
<rect x="1013.4" y="477.3" width="5" height="5" fill="#5a78dc" transform="rotate(-30 1015.9 479.8)"/>
<rect x="1018.7" y="486.2" width="5" height="5" fill="#5a78dc" transform="rotate(-30 1021.2 488.7)"/>
<rect x="1024.0" y="495.3" width="5" height="5" fill="#5a78dc" transform="rotate(-30 1026.5 497.8)"/>
<polyline points="1016.6,501.4 1035.2,512.6 1034.1,491.3" fill="none" stroke="#6070d8" stroke-width="4" stroke-linecap="round"/>
<g transform="translate(905,606) rotate(-7.3)">
<path d="M0,-61.5 L250,-61.5 L250,61.5 L0,61.5 A50,61.5 0 0 1 0,-61.5 Z" fill="url(#ntbody)"/>
<path d="M0,-61.5 L250,-61.5 L250,61.5 L0,61.5 A50,61.5 0 0 1 0,-61.5 Z" fill="url(#hexbody)"/>
<path d="M0,-61.5 L250,-61.5 L250,61.5 L0,61.5 A50,61.5 0 0 1 0,-61.5 Z" fill="url(#ntedge)"/>
<ellipse cx="250" cy="0" rx="50" ry="61.5" fill="url(#ntcap)"/>
<ellipse cx="250" cy="0" rx="48" ry="59.5" fill="url(#hexcap)"/>
<ellipse cx="250" cy="0" rx="49" ry="60.5" fill="none" stroke="#d8b8b8" stroke-width="2.5" opacity="0.8"/>
</g>
</svg>
</body></html>
